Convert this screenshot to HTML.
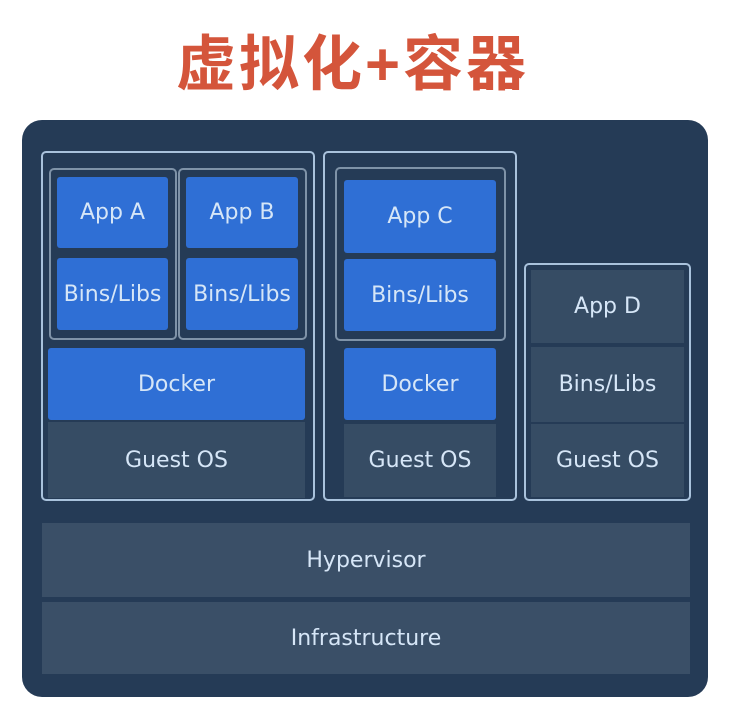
<!DOCTYPE html>
<html><head><meta charset="utf-8"><style>
body{margin:0;width:737px;height:707px;background:#fff;position:relative;overflow:hidden;font-family:"DejaVu Sans","Liberation Sans",sans-serif;}
.t{position:absolute;left:-16px;width:737px;top:16px;text-align:center;font:bold 60px "Liberation Sans","Noto Sans CJK SC",sans-serif;color:#d4553b;letter-spacing:3px;}
.p{position:absolute;left:22px;top:120px;width:686px;height:577px;background:#253b56;border-radius:20px;}
.b{position:absolute;box-sizing:border-box;display:flex;align-items:center;justify-content:center;color:#d6e6f7;font-size:22px;}
.bl{background:#2f6fd5;border-radius:3px;}
.g{background:#364c64;}
.o{border:2px solid #a9c2dc;border-radius:5px;}
.oi{border:2px solid #7f93a8;border-radius:5px;}
</style></head><body>
<div class="t">虚拟化+容器</div>
<div class="p"></div>
<div class="b o" style="left:41px;top:151px;width:274px;height:350px"></div>
<div class="b oi" style="left:49px;top:168px;width:128px;height:172px"></div>
<div class="b oi" style="left:178px;top:168px;width:129px;height:172px"></div>
<div class="b bl" style="left:57px;top:177px;width:111px;height:71px">App A</div>
<div class="b bl" style="left:57px;top:258px;width:111px;height:72px">Bins/Libs</div>
<div class="b bl" style="left:186px;top:177px;width:112px;height:71px">App B</div>
<div class="b bl" style="left:186px;top:258px;width:112px;height:72px">Bins/Libs</div>
<div class="b bl" style="left:48px;top:348px;width:257px;height:72px">Docker</div>
<div class="b g" style="left:48px;top:422px;width:257px;height:76px">Guest OS</div>

<div class="b o" style="left:323px;top:151px;width:194px;height:350px"></div>
<div class="b oi" style="left:335px;top:167px;width:171px;height:174px"></div>
<div class="b bl" style="left:344px;top:180px;width:152px;height:73px">App C</div>
<div class="b bl" style="left:344px;top:259px;width:152px;height:72px">Bins/Libs</div>
<div class="b bl" style="left:344px;top:348px;width:152px;height:72px">Docker</div>
<div class="b g" style="left:344px;top:424px;width:152px;height:73px">Guest OS</div>

<div class="b o" style="left:524px;top:263px;width:167px;height:238px"></div>
<div class="b g" style="left:531px;top:270px;width:153px;height:73px">App D</div>
<div class="b g" style="left:531px;top:347px;width:153px;height:75px">Bins/Libs</div>
<div class="b g" style="left:531px;top:424px;width:153px;height:73px">Guest OS</div>

<div class="b g" style="left:42px;top:523px;width:648px;height:74px;background:#3a4f67">Hypervisor</div>
<div class="b g" style="left:42px;top:602px;width:648px;height:72px;background:#3a4f67">Infrastructure</div>
</body></html>
